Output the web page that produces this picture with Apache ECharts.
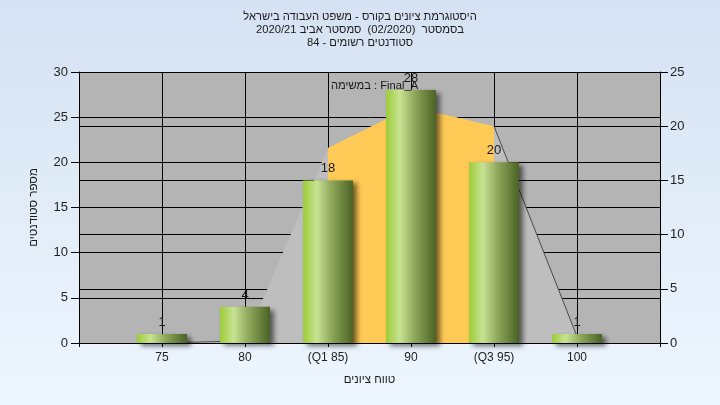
<!DOCTYPE html>
<html>
<head>
<meta charset="utf-8">
<script src="https://cdn.jsdelivr.net/npm/echarts@6/dist/echarts.min.js"></script>
<style>
html,body{margin:0;padding:0;}
#chart{width:720px;height:405px;background:linear-gradient(to bottom,#d5e2f3,#eef6fe);}
</style>
</head>
<body>
<div id="chart"></div>
<script>
// ---- data ----
var titleLines = ['היסטוגרמת ציונים בקורס - משפט העבודה בישראל', 'בסמסטר  (02/2020)  סמסטר אביב 2020/21', 'סטודנטים רשומים - 84'];
var seriesName = 'במשימה : Final_A';
var grades = [75, 80, 85, 90, 95, 100];
var gradeLabels = ['75', '80', '(Q1 85)', '90', '(Q3 95)', '100'];
var counts = [1, 4, 18, 28, 20, 1];
var curve = [0, 0.2, 18, 21.8, 20, 0.6];
var q1Index = 2, q3Index = 4;
var xName = 'טווח ציונים';
var yName = 'מספר סטודנטים';

var FONT = '"Liberation Sans", "DejaVu Sans", Arial, sans-serif';
var barData = grades.map(function (g, i) { return [g, counts[i]]; });
var grayArea = grades.map(function (g, i) { return [g, curve[i]]; });
var yellowArea = grades.map(function (g, i) { return (i >= q1Index && i <= q3Index) ? [g, curve[i]] : [g, '-']; });
var edgeLine = grades.map(function (g, i) { return (i < q1Index || i >= q3Index) ? [g, curve[i]] : [g, '-']; });

var chart = echarts.init(document.getElementById('chart'), null, {renderer: 'canvas'});
chart.setOption({
  backgroundColor: 'transparent',
  animation: false,
  textStyle: {fontFamily: FONT},
  title: {
    text: titleLines.join('\n'),
    left: 'center', top: 10, padding: 0,
    textStyle: {fontSize: 11.2, lineHeight: 13, fontWeight: 'normal', color: '#1a1a1a', fontFamily: FONT}
  },
  legend: {
    data: [{name: seriesName, icon: 'none'}],
    left: 326, top: 80, padding: 0, itemWidth: 0, itemHeight: 0, itemGap: 0,
    selectedMode: false,
    textStyle: {fontSize: 11.2, color: '#1a1a1a', fontFamily: FONT, padding: 0}
  },
  grid: {left: 79, right: 60, top: 72, bottom: 62, show: true, backgroundColor: '#b4b4b4', borderWidth: 0},
  xAxis: {
    type: 'value', min: 70, max: 105, interval: 5,
    name: xName, nameLocation: 'middle', nameGap: 31,
    nameTextStyle: {fontSize: 11.5, color: '#1a1a1a', fontFamily: FONT},
    axisLine: {show: true, lineStyle: {color: '#000', width: 1}},
    axisTick: {show: true, length: 4, lineStyle: {color: '#000'}},
    axisLabel: {
      margin: 9, fontSize: 12, color: '#222', fontFamily: FONT,
      formatter: function (v) { var i = grades.indexOf(v); return i >= 0 ? gradeLabels[i] : ''; }
    },
    splitLine: {show: true, lineStyle: {color: '#000', width: 1}}
  },
  yAxis: [{
    type: 'value', min: 0, max: 30, interval: 5, position: 'left',
    name: yName, nameLocation: 'middle', nameRotate: 90, nameGap: 39,
    nameTextStyle: {fontSize: 11.5, color: '#1a1a1a', fontFamily: FONT},
    axisLine: {show: true, lineStyle: {color: '#000', width: 1}},
    axisTick: {show: true, length: 8, lineStyle: {color: '#000'}},
    axisLabel: {margin: 11, fontSize: 13, color: '#222', fontFamily: FONT},
    splitLine: {show: true, lineStyle: {color: '#000', width: 1}}
  }, {
    type: 'value', min: 0, max: 25, interval: 5, position: 'right',
    axisLine: {show: true, lineStyle: {color: '#000', width: 1}},
    axisTick: {show: true, length: 8, lineStyle: {color: '#000'}},
    axisLabel: {margin: 10, fontSize: 13, color: '#222', fontFamily: FONT},
    splitLine: {show: true, lineStyle: {color: '#000', width: 1}}
  }],
  series: [{
    name: 'curve', type: 'line', yAxisIndex: 1, z: 1, data: grayArea,
    symbol: 'none', lineStyle: {width: 0}, areaStyle: {color: '#bebebe', opacity: 1},
    silent: true
  }, {
    name: 'iqr', type: 'line', yAxisIndex: 1, z: 1, data: yellowArea,
    symbol: 'none', lineStyle: {width: 0}, areaStyle: {color: '#ffca55', opacity: 1},
    silent: true
  }, {
    name: 'edge', type: 'line', yAxisIndex: 1, z: 1, data: edgeLine,
    symbol: 'none', lineStyle: {width: 1, color: '#4a4a4a'}, silent: true
  }, {
    name: seriesName, type: 'bar', yAxisIndex: 0, z: 3, data: barData, barWidth: 50,
    itemStyle: {
      color: {type: 'linear', x: 0, y: 0, x2: 1, y2: 0, colorStops: [
        {offset: 0, color: '#9dcd38'}, {offset: 0.28, color: '#c8e294'},
        {offset: 0.55, color: '#92ab5e'}, {offset: 1, color: '#4a6224'}]},
      shadowColor: 'rgba(0,0,0,0.55)', shadowBlur: 5, shadowOffsetX: 4, shadowOffsetY: 3
    },
    label: {show: true, position: 'top', distance: 5, fontSize: 13, color: '#1a1a1a', fontFamily: FONT}
  }]
});
</script>
</body>
</html>
